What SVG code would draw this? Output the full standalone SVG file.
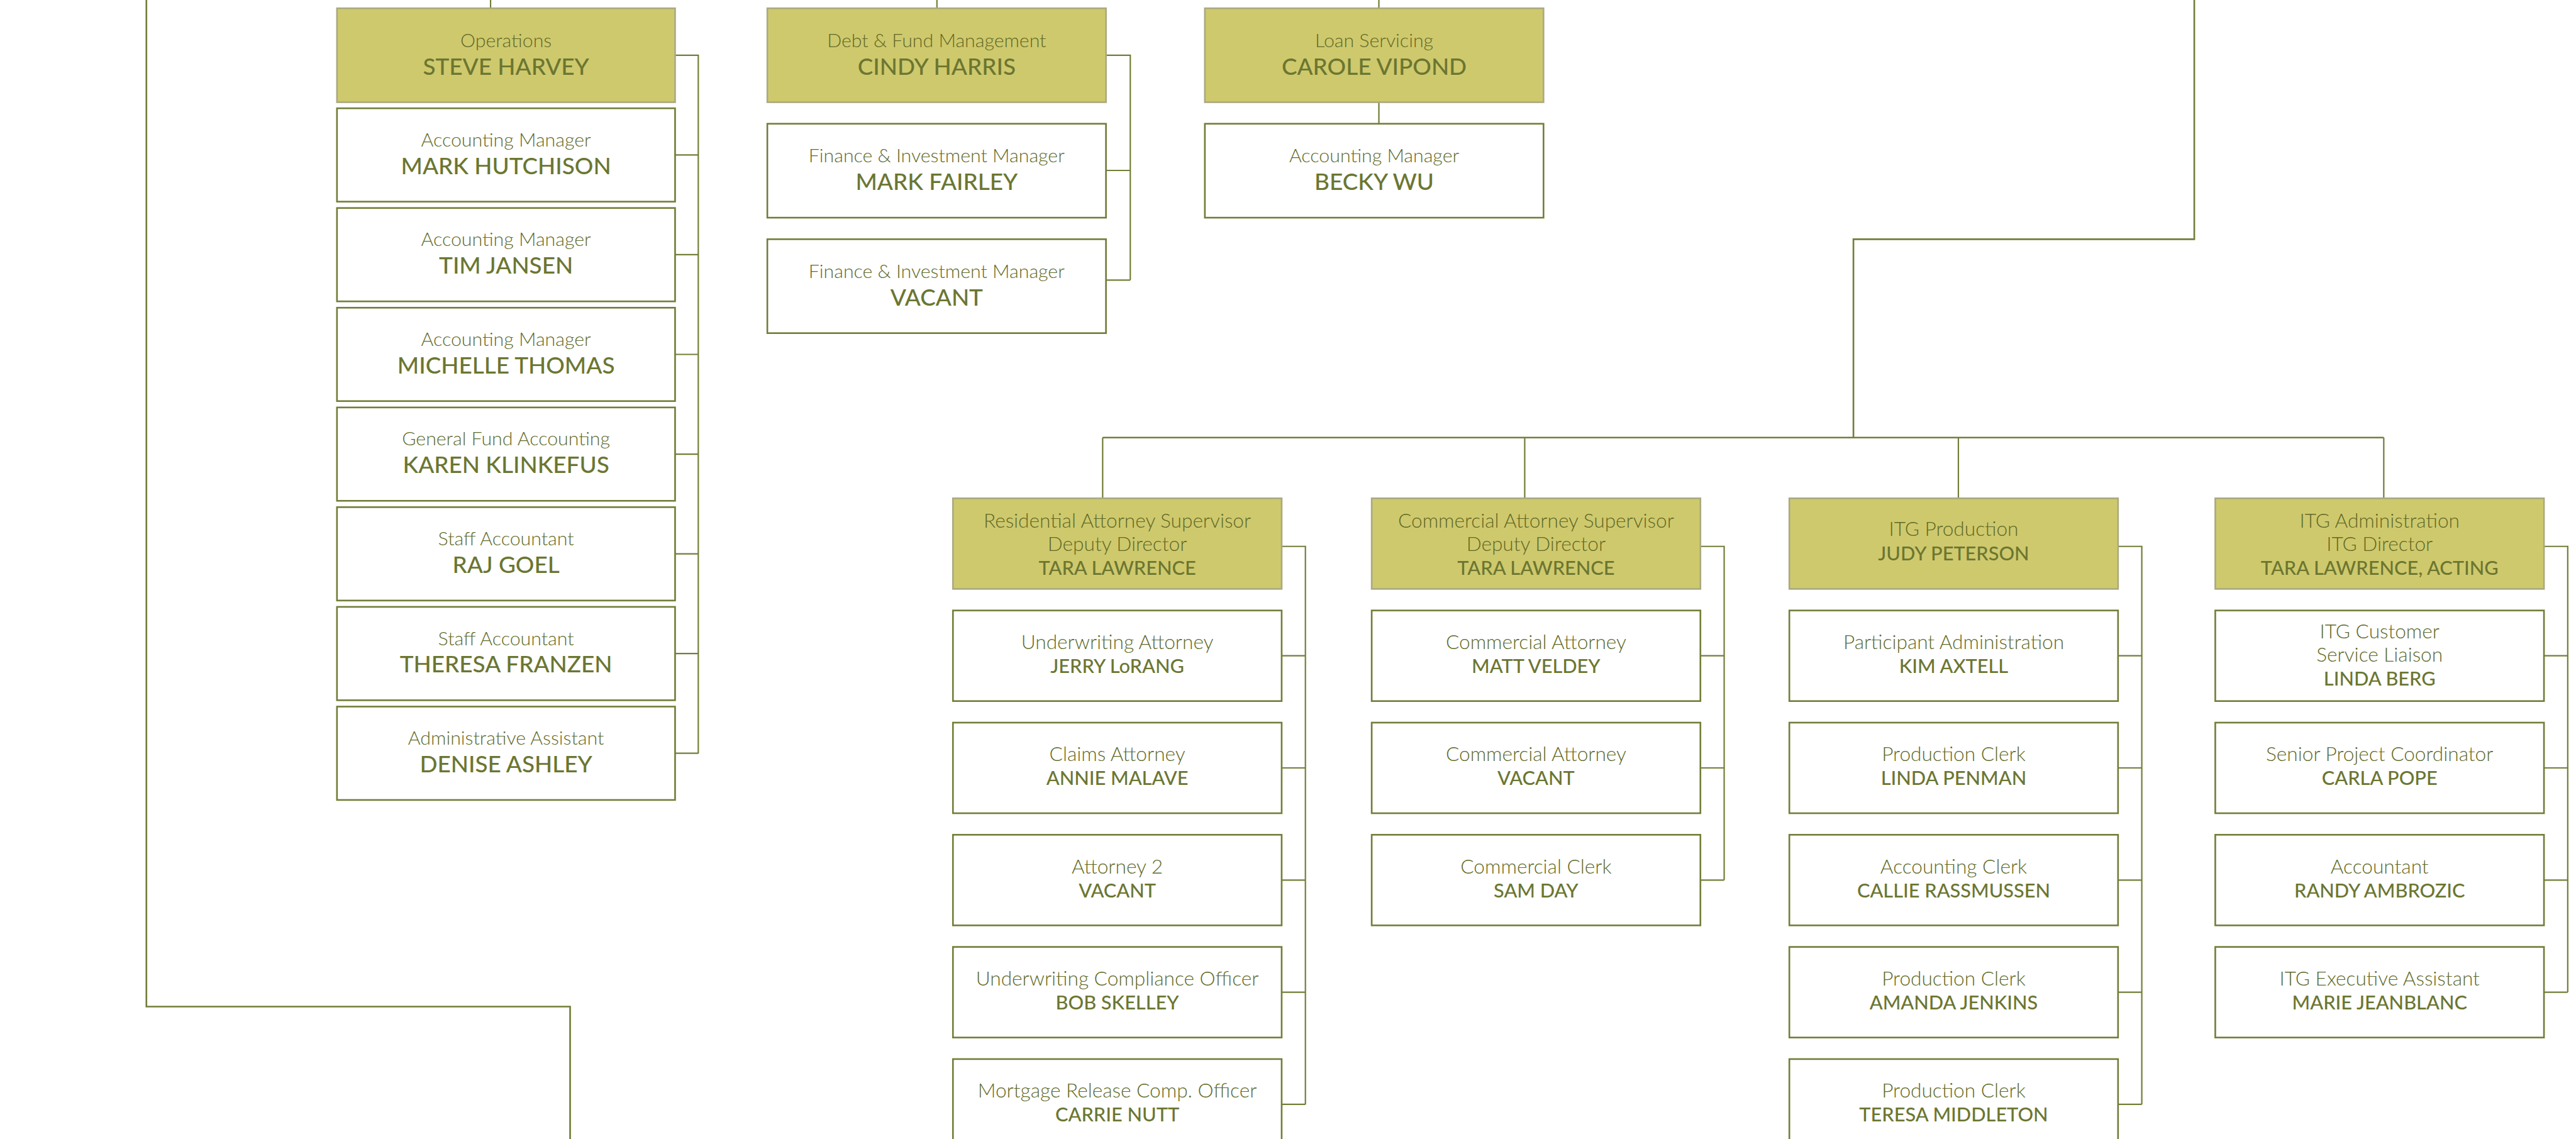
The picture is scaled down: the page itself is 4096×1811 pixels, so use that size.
<svg xmlns="http://www.w3.org/2000/svg" width="4096" height="1811" viewBox="0 0 4096 1811">
<style>
.hdr{fill:#CFC96D;stroke:#A9AA80;stroke-width:3}
.box{fill:#FFFFFF;stroke:#737D38;stroke-width:3}
text{font-family:Lato,"Liberation Sans",sans-serif;fill:#6B7631;text-anchor:middle}
.ts{font-size:34.5px;font-weight:300;fill:#5F6A27}
.ns{font-size:42px;font-weight:500}
.tb{font-size:36px;font-weight:300;fill:#5F6A27}
.nb{font-size:35px;font-weight:500}
.c{fill:none;stroke:#737D38;stroke-width:2.5}
.cl{fill:none;stroke:#737D38;stroke-width:3}
</style>
<rect width="4096" height="1811" fill="#FFFFFF"/>
<g transform="scale(0.87841)">
<g id="connectors">
<path class="c" d="M888,0V15M1696,0V15M2496,0V15M2496,185V224"/>
<path class="c" d="M1222,100H1264V1364M1222,280.5H1264M1222,461H1264M1222,641.5H1264M1222,822H1264M1222,1002.5H1264M1222,1183H1264M1222,1363.5H1264"/>
<path class="c" d="M2002,100H2046V507M2002,308.5H2046M2002,507H2046"/>
<path class="cl" d="M3972,0V433H3355V792"/>
<path class="cl" d="M265,0V1822H1032V2062"/>
<path class="cl" d="M1996,792H4315"/>
<path class="c" d="M1996,792V902M2760,792V902M3545,792V902M4315,792V902"/>
<path class="c" d="M2320,989H2363V1999M2320,1187H2363M2320,1390H2363M2320,1593H2363M2320,1796H2363M2320,1999H2363"/>
<path class="c" d="M3078,989H3121V1593M3078,1187H3121M3078,1390H3121M3078,1593H3121"/>
<path class="c" d="M3834,989H3877V1999M3834,1187H3877M3834,1390H3877M3834,1593H3877M3834,1796H3877M3834,1999H3877"/>
<path class="c" d="M4605,989H4648V1796M4605,1187H4648M4605,1390H4648M4605,1593H4648M4605,1796H4648"/>
</g>
<g id="operations"><rect class="hdr" x="610" y="15" width="612" height="170"/><text class="ts" x="916" y="85">Operations</text><text class="ns" x="916" y="136">STEVE HARVEY</text></g>
<g id="mark-hutchison"><rect class="box" x="610" y="196" width="612" height="169"/><text class="ts" x="916" y="265">Accounting Manager</text><text class="ns" x="916" y="315">MARK HUTCHISON</text></g>
<g id="tim-jansen"><rect class="box" x="610" y="376.5" width="612" height="169"/><text class="ts" x="916" y="445.5">Accounting Manager</text><text class="ns" x="916" y="495.5">TIM JANSEN</text></g>
<g id="michelle-thomas"><rect class="box" x="610" y="557" width="612" height="169"/><text class="ts" x="916" y="626">Accounting Manager</text><text class="ns" x="916" y="676">MICHELLE THOMAS</text></g>
<g id="karen-klinkefus"><rect class="box" x="610" y="737.5" width="612" height="169"/><text class="ts" x="916" y="806.5">General Fund Accounting</text><text class="ns" x="916" y="856.5">KAREN KLINKEFUS</text></g>
<g id="raj-goel"><rect class="box" x="610" y="918" width="612" height="169"/><text class="ts" x="916" y="987">Staff Accountant</text><text class="ns" x="916" y="1037">RAJ GOEL</text></g>
<g id="theresa-franzen"><rect class="box" x="610" y="1098.5" width="612" height="169"/><text class="ts" x="916" y="1167.5">Staff Accountant</text><text class="ns" x="916" y="1217.5">THERESA FRANZEN</text></g>
<g id="denise-ashley"><rect class="box" x="610" y="1279" width="612" height="169"/><text class="ts" x="916" y="1348">Administrative Assistant</text><text class="ns" x="916" y="1398">DENISE ASHLEY</text></g>

<g id="debt-fund"><rect class="hdr" x="1389" y="15" width="613" height="170"/><text class="ts" x="1695.5" y="85">Debt &amp; Fund Management</text><text class="ns" x="1695.5" y="136">CINDY HARRIS</text></g>
<g id="mark-fairley"><rect class="box" x="1389" y="224" width="613" height="170"/><text class="ts" x="1695.5" y="294">Finance &amp; Investment Manager</text><text class="ns" x="1695.5" y="344">MARK FAIRLEY</text></g>
<g id="fim-vacant"><rect class="box" x="1389" y="433" width="613" height="170"/><text class="ts" x="1695.5" y="503">Finance &amp; Investment Manager</text><text class="ns" x="1695.5" y="553">VACANT</text></g>

<g id="loan-servicing"><rect class="hdr" x="2181" y="15" width="613" height="170"/><text class="ts" x="2487.5" y="85">Loan Servicing</text><text class="ns" x="2487.5" y="136">CAROLE VIPOND</text></g>
<g id="becky-wu"><rect class="box" x="2181" y="224" width="613" height="170"/><text class="ts" x="2487.5" y="294">Accounting Manager</text><text class="ns" x="2487.5" y="344">BECKY WU</text></g>

<g id="residential"><rect class="hdr" x="1725" y="902" width="595" height="164"/><text class="tb" x="2022.5" y="955">Residential Attorney Supervisor</text><text class="tb" x="2022.5" y="997.5">Deputy Director</text><text class="nb" x="2022.5" y="1041">TARA LAWRENCE</text></g>
<g id="jerry-lorang"><rect class="box" x="1725" y="1105" width="595" height="164"/><text class="tb" x="2022.5" y="1175">Underwriting Attorney</text><text class="nb" x="2022.5" y="1218">JERRY LoRANG</text></g>
<g id="annie-malave"><rect class="box" x="1725" y="1308" width="595" height="164"/><text class="tb" x="2022.5" y="1378">Claims Attorney</text><text class="nb" x="2022.5" y="1421">ANNIE MALAVE</text></g>
<g id="attorney2-vacant"><rect class="box" x="1725" y="1511" width="595" height="164"/><text class="tb" x="2022.5" y="1581">Attorney 2</text><text class="nb" x="2022.5" y="1624">VACANT</text></g>
<g id="bob-skelley"><rect class="box" x="1725" y="1714" width="595" height="164"/><text class="tb" x="2022.5" y="1784">Underwriting Compliance Officer</text><text class="nb" x="2022.5" y="1827">BOB SKELLEY</text></g>
<g id="carrie-nutt"><rect class="box" x="1725" y="1917" width="595" height="164"/><text class="tb" x="2022.5" y="1987">Mortgage Release Comp. Officer</text><text class="nb" x="2022.5" y="2030">CARRIE NUTT</text></g>

<g id="commercial"><rect class="hdr" x="2483" y="902" width="595" height="164"/><text class="tb" x="2780.5" y="955">Commercial Attorney Supervisor</text><text class="tb" x="2780.5" y="997.5">Deputy Director</text><text class="nb" x="2780.5" y="1041">TARA LAWRENCE</text></g>
<g id="matt-veldey"><rect class="box" x="2483" y="1105" width="595" height="164"/><text class="tb" x="2780.5" y="1175">Commercial Attorney</text><text class="nb" x="2780.5" y="1218">MATT VELDEY</text></g>
<g id="commercial-vacant"><rect class="box" x="2483" y="1308" width="595" height="164"/><text class="tb" x="2780.5" y="1378">Commercial Attorney</text><text class="nb" x="2780.5" y="1421">VACANT</text></g>
<g id="sam-day"><rect class="box" x="2483" y="1511" width="595" height="164"/><text class="tb" x="2780.5" y="1581">Commercial Clerk</text><text class="nb" x="2780.5" y="1624">SAM DAY</text></g>

<g id="itg-production"><rect class="hdr" x="3239" y="902" width="595" height="164"/><text class="tb" x="3536.5" y="970">ITG Production</text><text class="nb" x="3536.5" y="1014">JUDY PETERSON</text></g>
<g id="kim-axtell"><rect class="box" x="3239" y="1105" width="595" height="164"/><text class="tb" x="3536.5" y="1175">Participant Administration</text><text class="nb" x="3536.5" y="1218">KIM AXTELL</text></g>
<g id="linda-penman"><rect class="box" x="3239" y="1308" width="595" height="164"/><text class="tb" x="3536.5" y="1378">Production Clerk</text><text class="nb" x="3536.5" y="1421">LINDA PENMAN</text></g>
<g id="callie-rassmussen"><rect class="box" x="3239" y="1511" width="595" height="164"/><text class="tb" x="3536.5" y="1581">Accounting Clerk</text><text class="nb" x="3536.5" y="1624">CALLIE RASSMUSSEN</text></g>
<g id="amanda-jenkins"><rect class="box" x="3239" y="1714" width="595" height="164"/><text class="tb" x="3536.5" y="1784">Production Clerk</text><text class="nb" x="3536.5" y="1827">AMANDA JENKINS</text></g>
<g id="teresa-middleton"><rect class="box" x="3239" y="1917" width="595" height="164"/><text class="tb" x="3536.5" y="1987">Production Clerk</text><text class="nb" x="3536.5" y="2030">TERESA MIDDLETON</text></g>

<g id="itg-administration"><rect class="hdr" x="4010" y="902" width="595" height="164"/><text class="tb" x="4307.5" y="955">ITG Administration</text><text class="tb" x="4307.5" y="997.5">ITG Director</text><text class="nb" x="4307.5" y="1041">TARA LAWRENCE, ACTING</text></g>
<g id="linda-berg"><rect class="box" x="4010" y="1105" width="595" height="164"/><text class="tb" x="4307.5" y="1156">ITG Customer</text><text class="tb" x="4307.5" y="1198">Service Liaison</text><text class="nb" x="4307.5" y="1241">LINDA BERG</text></g>
<g id="carla-pope"><rect class="box" x="4010" y="1308" width="595" height="164"/><text class="tb" x="4307.5" y="1378">Senior Project Coordinator</text><text class="nb" x="4307.5" y="1421">CARLA POPE</text></g>
<g id="randy-ambrozic"><rect class="box" x="4010" y="1511" width="595" height="164"/><text class="tb" x="4307.5" y="1581">Accountant</text><text class="nb" x="4307.5" y="1624">RANDY AMBROZIC</text></g>
<g id="marie-jeanblanc"><rect class="box" x="4010" y="1714" width="595" height="164"/><text class="tb" x="4307.5" y="1784">ITG Executive Assistant</text><text class="nb" x="4307.5" y="1827">MARIE JEANBLANC</text></g>
</g>
</svg>
